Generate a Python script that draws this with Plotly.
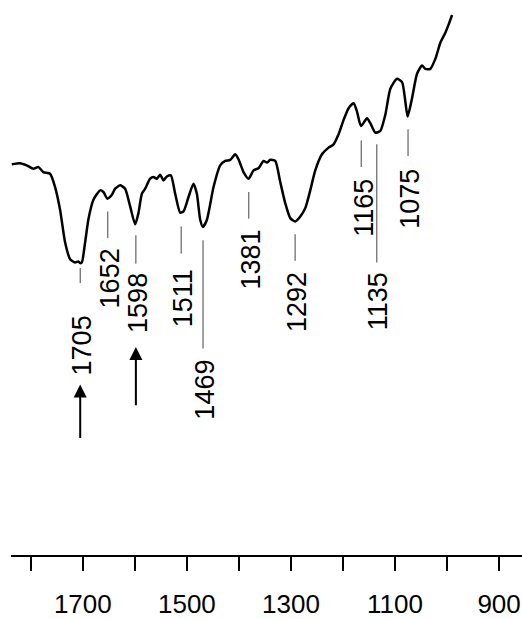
import plotly.graph_objects as go

# IR spectrum trace: wavenumber (cm-1) and transmittance (arbitrary units)
wavenumber = [1836.5, 1820.6, 1807.7, 1795.0, 1785.4, 1775.8, 1762.9, 1753.3, 1743.7, 1734.0,
              1724.4, 1714.8, 1708.5, 1705.0, 1701.9, 1695.6, 1689.2, 1679.6, 1666.7, 1660.4,
              1652.7, 1644.2, 1637.9, 1628.3, 1618.7, 1609.0, 1599.4, 1593.1, 1586.5, 1580.2,
              1570.6, 1564.2, 1557.7, 1551.3, 1545.0, 1538.5, 1530.8, 1522.5, 1512.9, 1506.5,
              1496.9, 1487.3, 1480.8, 1474.4, 1469.2, 1461.5, 1448.8, 1436.0, 1426.3, 1416.7,
              1407.1, 1400.8, 1391.2, 1381.5, 1371.9, 1362.3, 1352.7, 1346.2, 1339.8, 1330.2,
              1320.6, 1311.0, 1301.3, 1291.7, 1282.1, 1272.5, 1262.9, 1253.3, 1240.4, 1227.7,
              1218.1, 1208.5, 1198.8, 1189.2, 1179.6, 1173.1, 1165.4, 1153.8, 1147.5, 1137.9,
              1128.3, 1118.7, 1109.0, 1096.2, 1086.5, 1080.2, 1075.8, 1067.3, 1057.7, 1048.1,
              1041.7, 1032.1, 1022.5, 1012.9, 1003.3, 996.9, 990.4]
transmittance = [70.4, 70.6, 70.2, 69.6, 69.9, 69.0, 68.7, 66.3, 62.2, 56.3,
                 53.3, 52.7, 52.9, 52.6, 52.7, 56.3, 60.5, 64.0, 65.7, 65.4,
                 64.2, 64.9, 66.0, 66.6, 66.0, 62.8, 59.6, 61.6, 65.1, 66.0,
                 67.8, 68.1, 67.8, 68.5, 67.5, 68.2, 68.4, 65.1, 61.7, 61.9,
                 64.5, 66.9, 65.1, 60.4, 59.1, 60.4, 66.3, 70.2, 71.0, 71.2,
                 72.2, 71.3, 69.0, 67.8, 69.3, 69.7, 71.0, 70.7, 71.2, 71.0,
                 67.2, 63.4, 60.7, 60.1, 61.0, 62.5, 65.7, 69.3, 72.2, 73.4,
                 74.0, 75.8, 78.4, 80.5, 81.4, 79.9, 77.3, 78.7, 77.8, 76.1,
                 76.4, 79.3, 84.0, 85.8, 85.2, 81.7, 79.0, 82.3, 86.7, 88.2,
                 87.6, 87.6, 89.4, 92.3, 94.1, 95.6, 97.3]

# Assigned band positions (cm-1)
peak_labels = [1705, 1652, 1598, 1511, 1469, 1381, 1292, 1165, 1135, 1075]
# Bands marked with an arrow
arrow_peaks = [1705, 1598]

tick_vals = [1800, 1700, 1600, 1500, 1400, 1300, 1200, 1100, 1000, 900]
tick_text = ["", "1700", "", "1500", "", "1300", "", "1100", "", "900"]

# Placement of leader lines (bottom, top) and label centres, in transmittance units
leader_spans = [(49.0, 51.7), (57.1, 61.9), (52.5, 57.6), (54.3, 59.2), (37.2, 56.7),
                (60.6, 65.4), (53.0, 57.8), (69.9, 74.7), (52.7, 74.0), (71.9, 76.7)]
label_centres = [37.8, 49.8, 45.4, 46.3, 29.8, 53.2, 45.6, 62.6, 45.7, 64.2]
arrow_spans = [(20.8, 30.7), (26.7, 37.5)]

FONT = "Liberation Sans, Arial, sans-serif"

fig = go.Figure()
fig.add_trace(go.Scatter(
    x=wavenumber, y=transmittance, mode="lines",
    line=dict(color="black", width=2.5, shape="spline", smoothing=0.6),
    hoverinfo="skip", showlegend=False,
))

shapes = []
annotations = []
for wn, (y0, y1), yc in zip(peak_labels, leader_spans, label_centres):
    shapes.append(dict(type="line", xref="x", yref="y", x0=wn, x1=wn, y0=y0, y1=y1,
                       line=dict(color="#444444", width=1)))
    annotations.append(dict(x=wn, y=yc, xref="x", yref="y", text=str(wn),
                            textangle=-90, showarrow=False, xshift=2,
                            xanchor="center", yanchor="middle",
                            font=dict(family=FONT, size=27, color="black")))

for wn, (ya, yb) in zip(arrow_peaks, arrow_spans):
    annotations.append(dict(x=wn, y=yb, ax=wn, ay=ya, xref="x", yref="y",
                            axref="x", ayref="y", text="", showarrow=True,
                            arrowhead=2, arrowsize=1.3, arrowwidth=2,
                            arrowcolor="black", standoff=0, startstandoff=0))

fig.update_layout(
    width=522, height=619,
    margin=dict(l=11, r=0, t=0, b=55),
    paper_bgcolor="white", plot_bgcolor="white",
    shapes=shapes, annotations=annotations,
    xaxis=dict(range=[1838, 856], tickvals=tick_vals, ticktext=tick_text,
               ticks="outside", ticklen=14, tickwidth=1.5, tickcolor="black",
               showline=True, linecolor="black", linewidth=1.5,
               showgrid=False, zeroline=False, ticklabelstandoff=11,
               tickfont=dict(family=FONT, size=26, color="black")),
    yaxis=dict(range=[0, 100], visible=False, showgrid=False, zeroline=False),
)

fig.write_html("out.html")
